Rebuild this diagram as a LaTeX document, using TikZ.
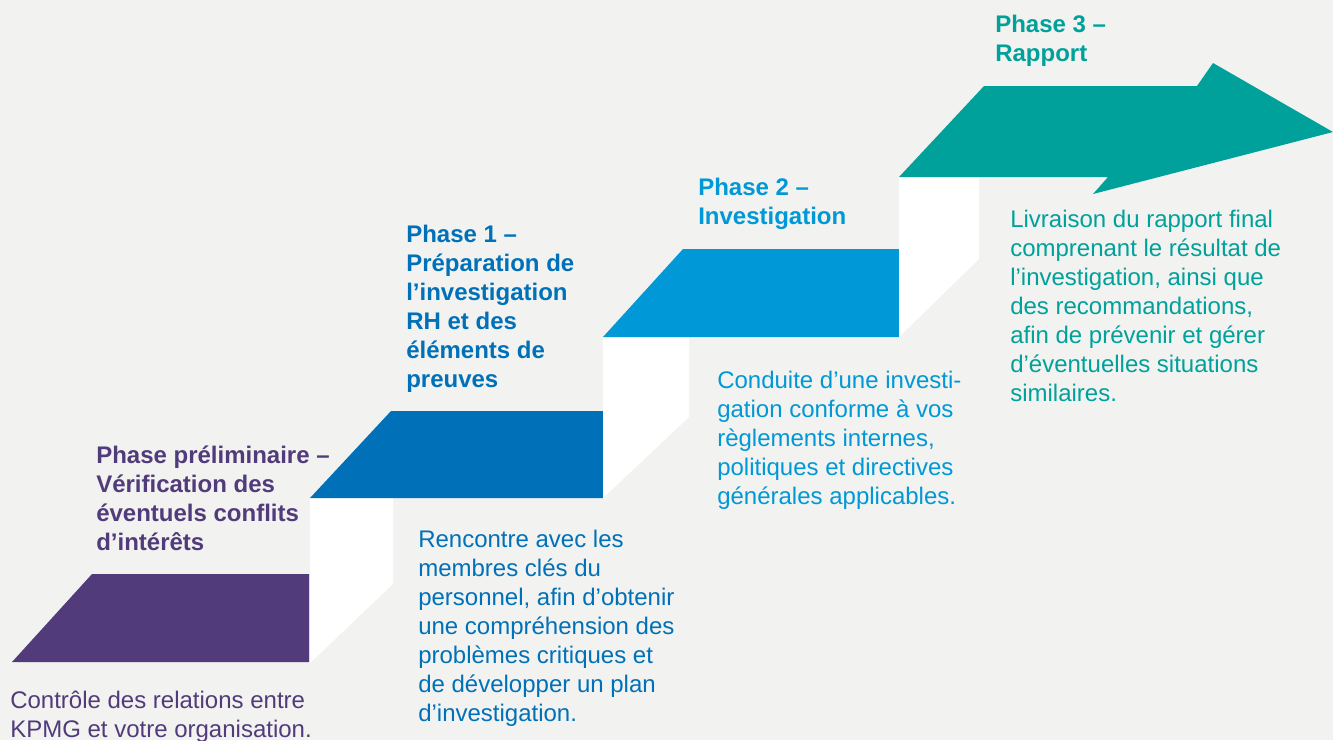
\documentclass[tikz,border=0pt]{standalone}
\usepackage{fontspec}
\setmainfont{Liberation Sans}
\usetikzlibrary{calc}
\definecolor{kpurple}{HTML}{513B7A}
\definecolor{kblue}{HTML}{0071B9}
\definecolor{kcyan}{HTML}{0098D6}
\definecolor{kteal}{HTML}{00A19A}
\definecolor{kbg}{HTML}{F2F2F0}
\tikzset{
  phasehead/.style={anchor=base west, align=left, inner sep=0pt, font=\fontsize{18}{21.75}\selectfont\bfseries},
  phasebody/.style={anchor=base west, align=left, inner sep=0pt, font=\fontsize{18}{21.75}\selectfont},
}

\begin{document}
\begin{tikzpicture}[x=0.75pt, y=-0.75pt]
			%%%%% START %%%%%
			
			\fill[kbg] (0,0) rectangle (1333,740);
			\useasboundingbox (0,0) rectangle (1333,740);
			
			\fill[kpurple] (92,574) -- (309,574) -- (309,662) -- (12,662) -- cycle;
			\fill[white] (310,498) -- (393,498) -- (393,584) -- (310,663) -- cycle;
			
			\fill[kblue] (391,411) -- (603,411) -- (603,498) -- (310,498) -- cycle;
			\fill[white] (603,337) -- (689,337) -- (689,417) -- (603,498) -- cycle;
			
			\fill[kcyan] (683,249) -- (899,249) -- (899,337) -- (603,337) -- cycle;
			\fill[white] (899,176) -- (979,176) -- (979,259) -- (899,337) -- cycle;
			
			\fill[kteal] (984,86) -- (1197,86) -- (1213,63) -- (1333,132) -- (1093,194) -- (1108,177) -- (899,177) -- cycle;
			
			% anchors sit on the last line
			\node[phasehead, text=kpurple] (head0) at (96,550) {Phase préliminaire –\\Vérification des\\éventuels conflits\\d’intérêts};
			\node[phasebody, text=kpurple] (body0) at (10,737) {Contrôle des relations entre\\KPMG et votre organisation.};
			
			\node[phasehead, text=kblue] (head1) at (406,387) {Phase 1 –\\Préparation de\\l’investigation\\RH et des\\éléments de\\preuves};
			\node[phasebody, text=kblue] (body1) at (418,721) {Rencontre avec les\\membres clés du\\personnel, afin d’obtenir\\une compréhension des\\problèmes critiques et\\de développer un plan\\d’investigation.};
			
			\node[phasehead, text=kcyan] (head2) at (698,224) {Phase 2 –\\Investigation};
			\node[phasebody, text=kcyan] (body2) at (717,504) {Conduite d’une investi-\\gation conforme à vos\\règlements internes,\\politiques et directives\\générales applicables.};
			
			\node[phasehead, text=kteal] (head3) at (995,61) {Phase 3 –\\Rapport};
			\node[phasebody, text=kteal] (body3) at (1010,401) {Livraison du rapport final\\comprenant le résultat de\\l’investigation, ainsi que\\des recommandations,\\afin de prévenir et gérer\\d’éventuelles situations\\similaires.};
			
			%%%%% END %%%%%
\end{tikzpicture}
\end{document}
